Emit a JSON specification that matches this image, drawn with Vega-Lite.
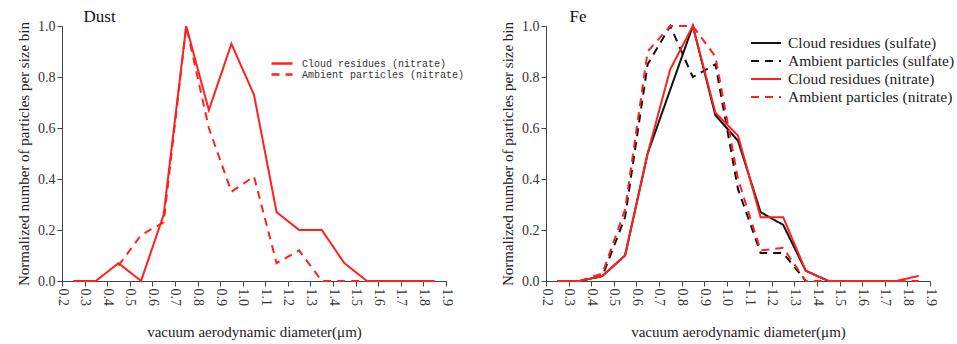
{
  "$schema": "https://vega.github.io/schema/vega-lite/v6.json",
  "background": "white",
  "padding": {"left": 16, "top": 8, "right": 0, "bottom": 0},
  "spacing": 35,
  "config": {
    "view": {"stroke": null},
    "font": "Liberation Serif",
    "axis": {
      "grid": false,
      "domainColor": "#444",
      "tickColor": "#444",
      "tickSize": 5,
      "labelFont": "Liberation Serif",
      "labelFontSize": 14,
      "labelColor": "#333",
      "titleFont": "Liberation Serif",
      "titleFontSize": 15,
      "titleFontWeight": "normal",
      "titleColor": "#222"
    },
    "title": {"font": "Liberation Serif", "fontSize": 17, "fontWeight": "normal", "anchor": "start", "color": "#111"}
  },
  "datasets": {
    "dust": [
      {"d": 0.25, "v": 0, "s": "Cloud residues (nitrate)"},
      {"d": 0.35, "v": 0, "s": "Cloud residues (nitrate)"},
      {"d": 0.45, "v": 0.07, "s": "Cloud residues (nitrate)"},
      {"d": 0.55, "v": 0, "s": "Cloud residues (nitrate)"},
      {"d": 0.65, "v": 0.26, "s": "Cloud residues (nitrate)"},
      {"d": 0.75, "v": 1.0, "s": "Cloud residues (nitrate)"},
      {"d": 0.85, "v": 0.67, "s": "Cloud residues (nitrate)"},
      {"d": 0.95, "v": 0.93, "s": "Cloud residues (nitrate)"},
      {"d": 1.05, "v": 0.73, "s": "Cloud residues (nitrate)"},
      {"d": 1.15, "v": 0.27, "s": "Cloud residues (nitrate)"},
      {"d": 1.25, "v": 0.2, "s": "Cloud residues (nitrate)"},
      {"d": 1.35, "v": 0.2, "s": "Cloud residues (nitrate)"},
      {"d": 1.45, "v": 0.07, "s": "Cloud residues (nitrate)"},
      {"d": 1.55, "v": 0, "s": "Cloud residues (nitrate)"},
      {"d": 1.65, "v": 0, "s": "Cloud residues (nitrate)"},
      {"d": 1.75, "v": 0, "s": "Cloud residues (nitrate)"},
      {"d": 1.85, "v": 0, "s": "Cloud residues (nitrate)"},
      {"d": 0.45, "v": 0.06, "s": "Ambient particles (nitrate)"},
      {"d": 0.55, "v": 0.18, "s": "Ambient particles (nitrate)"},
      {"d": 0.65, "v": 0.23, "s": "Ambient particles (nitrate)"},
      {"d": 0.75, "v": 1.0, "s": "Ambient particles (nitrate)"},
      {"d": 0.85, "v": 0.6, "s": "Ambient particles (nitrate)"},
      {"d": 0.95, "v": 0.35, "s": "Ambient particles (nitrate)"},
      {"d": 1.05, "v": 0.41, "s": "Ambient particles (nitrate)"},
      {"d": 1.15, "v": 0.07, "s": "Ambient particles (nitrate)"},
      {"d": 1.25, "v": 0.12, "s": "Ambient particles (nitrate)"},
      {"d": 1.35, "v": 0, "s": "Ambient particles (nitrate)"},
      {"d": 1.45, "v": 0, "s": "Ambient particles (nitrate)"},
      {"d": 1.55, "v": 0, "s": "Ambient particles (nitrate)"}
    ],
    "fe": [
      {"d": 0.25, "v": 0, "s": "Cloud residues (sulfate)"},
      {"d": 0.35, "v": 0, "s": "Cloud residues (sulfate)"},
      {"d": 0.45, "v": 0.02, "s": "Cloud residues (sulfate)"},
      {"d": 0.55, "v": 0.1, "s": "Cloud residues (sulfate)"},
      {"d": 0.65, "v": 0.5, "s": "Cloud residues (sulfate)"},
      {"d": 0.75, "v": 0.75, "s": "Cloud residues (sulfate)"},
      {"d": 0.85, "v": 1.0, "s": "Cloud residues (sulfate)"},
      {"d": 0.95, "v": 0.65, "s": "Cloud residues (sulfate)"},
      {"d": 1.05, "v": 0.55, "s": "Cloud residues (sulfate)"},
      {"d": 1.15, "v": 0.27, "s": "Cloud residues (sulfate)"},
      {"d": 1.25, "v": 0.22, "s": "Cloud residues (sulfate)"},
      {"d": 1.35, "v": 0.04, "s": "Cloud residues (sulfate)"},
      {"d": 1.45, "v": 0, "s": "Cloud residues (sulfate)"},
      {"d": 0.35, "v": 0, "s": "Ambient particles (sulfate)"},
      {"d": 0.45, "v": 0.02, "s": "Ambient particles (sulfate)"},
      {"d": 0.55, "v": 0.25, "s": "Ambient particles (sulfate)"},
      {"d": 0.65, "v": 0.85, "s": "Ambient particles (sulfate)"},
      {"d": 0.75, "v": 1.0, "s": "Ambient particles (sulfate)"},
      {"d": 0.85, "v": 0.8, "s": "Ambient particles (sulfate)"},
      {"d": 0.95, "v": 0.85, "s": "Ambient particles (sulfate)"},
      {"d": 1.05, "v": 0.36, "s": "Ambient particles (sulfate)"},
      {"d": 1.15, "v": 0.11, "s": "Ambient particles (sulfate)"},
      {"d": 1.25, "v": 0.11, "s": "Ambient particles (sulfate)"},
      {"d": 1.35, "v": 0, "s": "Ambient particles (sulfate)"},
      {"d": 0.25, "v": 0, "s": "Cloud residues (nitrate)"},
      {"d": 0.35, "v": 0, "s": "Cloud residues (nitrate)"},
      {"d": 0.45, "v": 0.02, "s": "Cloud residues (nitrate)"},
      {"d": 0.55, "v": 0.1, "s": "Cloud residues (nitrate)"},
      {"d": 0.65, "v": 0.5, "s": "Cloud residues (nitrate)"},
      {"d": 0.75, "v": 0.83, "s": "Cloud residues (nitrate)"},
      {"d": 0.85, "v": 1.0, "s": "Cloud residues (nitrate)"},
      {"d": 0.95, "v": 0.66, "s": "Cloud residues (nitrate)"},
      {"d": 1.05, "v": 0.57, "s": "Cloud residues (nitrate)"},
      {"d": 1.15, "v": 0.25, "s": "Cloud residues (nitrate)"},
      {"d": 1.25, "v": 0.25, "s": "Cloud residues (nitrate)"},
      {"d": 1.35, "v": 0.04, "s": "Cloud residues (nitrate)"},
      {"d": 1.45, "v": 0, "s": "Cloud residues (nitrate)"},
      {"d": 1.55, "v": 0, "s": "Cloud residues (nitrate)"},
      {"d": 1.65, "v": 0, "s": "Cloud residues (nitrate)"},
      {"d": 1.75, "v": 0, "s": "Cloud residues (nitrate)"},
      {"d": 1.85, "v": 0.02, "s": "Cloud residues (nitrate)"},
      {"d": 0.35, "v": 0, "s": "Ambient particles (nitrate)"},
      {"d": 0.45, "v": 0.03, "s": "Ambient particles (nitrate)"},
      {"d": 0.55, "v": 0.28, "s": "Ambient particles (nitrate)"},
      {"d": 0.65, "v": 0.9, "s": "Ambient particles (nitrate)"},
      {"d": 0.75, "v": 1.0, "s": "Ambient particles (nitrate)"},
      {"d": 0.85, "v": 1.0, "s": "Ambient particles (nitrate)"},
      {"d": 0.95, "v": 0.88, "s": "Ambient particles (nitrate)"},
      {"d": 1.05, "v": 0.4, "s": "Ambient particles (nitrate)"},
      {"d": 1.15, "v": 0.12, "s": "Ambient particles (nitrate)"},
      {"d": 1.25, "v": 0.13, "s": "Ambient particles (nitrate)"},
      {"d": 1.35, "v": 0, "s": "Ambient particles (nitrate)"},
      {"d": 1.45, "v": 0, "s": "Ambient particles (nitrate)"},
      {"d": 1.55, "v": 0, "s": "Ambient particles (nitrate)"},
      {"d": 1.65, "v": 0, "s": "Ambient particles (nitrate)"},
      {"d": 1.75, "v": 0, "s": "Ambient particles (nitrate)"},
      {"d": 1.85, "v": 0, "s": "Ambient particles (nitrate)"}
    ]
  },
  "resolve": {"scale": {"color": "independent", "strokeDash": "independent"}, "legend": {"color": "independent", "strokeDash": "independent"}},
  "hconcat": [
    {
      "width": 384,
      "height": 255,
      "title": {"text": "Dust", "dx": 67, "offset": -7},
      "data": {"name": "dust"},
      "mark": {"type": "line", "strokeWidth": 2},
      "encoding": {
        "x": {"field": "d", "type": "quantitative", "scale": {"domain": [0.2, 1.9], "nice": false, "zero": false},
          "axis": {"values": [0.2,0.3,0.4,0.5,0.6,0.7,0.8,0.9,1.0,1.1,1.2,1.3,1.4,1.5,1.6,1.7,1.8,1.9], "format": ".1f", "labelAngle": 90, "labelAlign": "left", "labelBaseline": "middle", "title": "vacuum aerodynamic diameter(μm)", "titlePadding": 19}},
        "y": {"field": "v", "type": "quantitative", "scale": {"domain": [0, 1.0], "nice": false},
          "axis": {"values": [0, 0.2, 0.4, 0.6, 0.8, 1.0], "format": ".1f", "title": "Normalized number of particles per size bin", "titlePadding": 6}},
        "color": {"field": "s", "type": "nominal", "sort": null,
          "scale": {"domain": ["Cloud residues (nitrate)", "Ambient particles (nitrate)"], "range": ["#ff2020", "#ff2020"]},
          "legend": {"title": null, "orient": "none", "legendX": 208, "legendY": 32, "labelFont": "Liberation Mono", "labelFontSize": 10, "labelColor": "#333", "labelLimit": 300, "symbolType": "stroke", "symbolSize": 441, "symbolStrokeWidth": 2.5, "clipHeight": 11, "rowPadding": 0, "labelOffset": 8}},
        "strokeDash": {"field": "s", "type": "nominal", "sort": null,
          "scale": {"domain": ["Cloud residues (nitrate)", "Ambient particles (nitrate)"], "range": [[1, 0], [8, 6]]},
          "legend": null}
      }
    },
    {
      "width": 384,
      "height": 255,
      "title": {"text": "Fe", "dx": 69, "offset": -7},
      "data": {"name": "fe"},
      "mark": {"type": "line", "strokeWidth": 2},
      "encoding": {
        "x": {"field": "d", "type": "quantitative", "scale": {"domain": [0.2, 1.9], "nice": false, "zero": false},
          "axis": {"values": [0.2,0.3,0.4,0.5,0.6,0.7,0.8,0.9,1.0,1.1,1.2,1.3,1.4,1.5,1.6,1.7,1.8,1.9], "format": ".1f", "labelAngle": 90, "labelAlign": "left", "labelBaseline": "middle", "title": "vacuum aerodynamic diameter(μm)", "titlePadding": 19}},
        "y": {"field": "v", "type": "quantitative", "scale": {"domain": [0, 1.0], "nice": false},
          "axis": {"values": [0, 0.2, 0.4, 0.6, 0.8, 1.0], "format": ".1f", "title": "Normalized number of particles per size bin", "titlePadding": 6}},
        "color": {"field": "s", "type": "nominal", "sort": null,
          "scale": {"domain": ["Cloud residues (sulfate)", "Ambient particles (sulfate)", "Cloud residues (nitrate)", "Ambient particles (nitrate)"], "range": ["#111111", "#111111", "#ff2020", "#ff2020"]},
          "legend": {"title": null, "orient": "none", "legendX": 204, "legendY": 8, "labelFont": "Liberation Serif", "labelFontSize": 15.5, "labelColor": "#222", "symbolType": "stroke", "symbolSize": 900, "symbolStrokeWidth": 2, "clipHeight": 18, "rowPadding": 0, "labelOffset": 6, "labelLimit": 300}},
        "strokeDash": {"field": "s", "type": "nominal", "sort": null,
          "scale": {"domain": ["Cloud residues (sulfate)", "Ambient particles (sulfate)", "Cloud residues (nitrate)", "Ambient particles (nitrate)"], "range": [[1, 0], [8, 6], [1, 0], [8, 6]]},
          "legend": {"title": null, "orient": "none", "legendX": 204, "legendY": 8, "labelFont": "Liberation Serif", "labelFontSize": 15.5, "labelColor": "#222", "symbolType": "stroke", "symbolSize": 900, "symbolStrokeWidth": 2, "clipHeight": 18, "rowPadding": 0, "labelOffset": 6, "labelLimit": 300}}
      }
    }
  ]
}
